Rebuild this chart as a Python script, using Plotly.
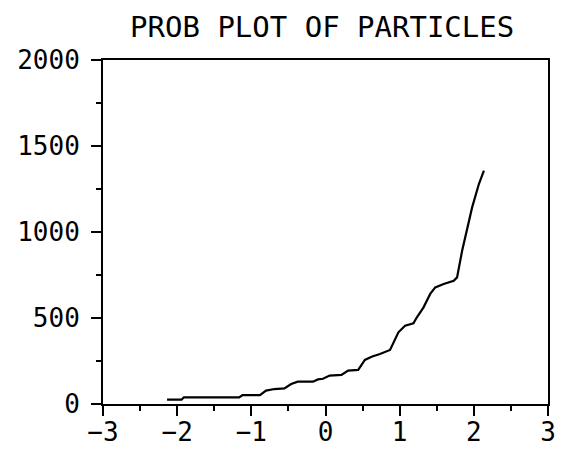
import plotly.graph_objects as go

title_text = "PROB PLOT OF PARTICLES"

# theoretical normal quantiles (x) and ordered particle values (y)
quantiles = [-2.136, -1.941, -1.910, -1.164, -1.119, -0.884, -0.802, -0.689, -0.554,
             -0.463, -0.373, -0.169, -0.102, -0.034, 0.056, 0.215, 0.305, 0.441,
             0.531, 0.621, 0.734, 0.870, 0.983, 1.073, 1.186, 1.232, 1.322, 1.412,
             1.480, 1.593, 1.729, 1.774, 1.842, 1.910, 1.977, 2.068, 2.136]
particles = [25, 25, 39, 39, 52, 52, 78, 87, 91,
             116, 130, 130, 143, 147, 165, 169, 194, 198,
             256, 275, 291, 314, 417, 455, 469, 504, 562, 640,
             678, 698, 717, 736, 891, 1017, 1143, 1279, 1357]

x_ticks = [-3, -2, -1, 0, 1, 2, 3]
y_ticks = [0, 500, 1000, 1500, 2000]

fig = go.Figure()
fig.add_trace(go.Scatter(x=quantiles, y=particles, mode="lines",
                         line=dict(color="black", width=2.2), showlegend=False,
                         hoverinfo="skip"))

font = dict(family="DejaVu Sans Mono", size=26, color="black")

fig.update_layout(
    width=557, height=441,
    margin=dict(l=95, r=17, t=52, b=45, pad=0, autoexpand=False),
    paper_bgcolor="white", plot_bgcolor="white",
    title=dict(text=title_text, x=0.564, xanchor="center", y=0.98, yanchor="top",
               yref="container",
               font=dict(family="DejaVu Sans Mono", size=29, color="black")),
    font=font,
)
fig.update_xaxes(range=[-3, 3], tickvals=x_ticks, ticktext=[str(v).replace("-", "−") for v in x_ticks],
                 automargin=False,
                 ticks="outside", ticklen=10, tickwidth=2, tickcolor="black",
                 showline=True, linecolor="black", linewidth=2, mirror=True,
                 showgrid=False, zeroline=False, tickfont=font, ticklabelstandoff=-6,
                 minor=dict(dtick=0.5, tick0=0, ticks="outside", ticklen=5, tickwidth=2,
                            tickcolor="black", showgrid=False))
fig.update_yaxes(range=[0, 2000], tickvals=y_ticks, automargin=False,
                 ticks="outside", ticklen=10, tickwidth=2, tickcolor="black",
                 showline=True, linecolor="black", linewidth=2, mirror=True,
                 showgrid=False, zeroline=False, tickfont=font, ticklabelstandoff=6,
                 minor=dict(dtick=250, tick0=0, ticks="outside", ticklen=5, tickwidth=2,
                            tickcolor="black", showgrid=False))

fig.write_html("out.html")
